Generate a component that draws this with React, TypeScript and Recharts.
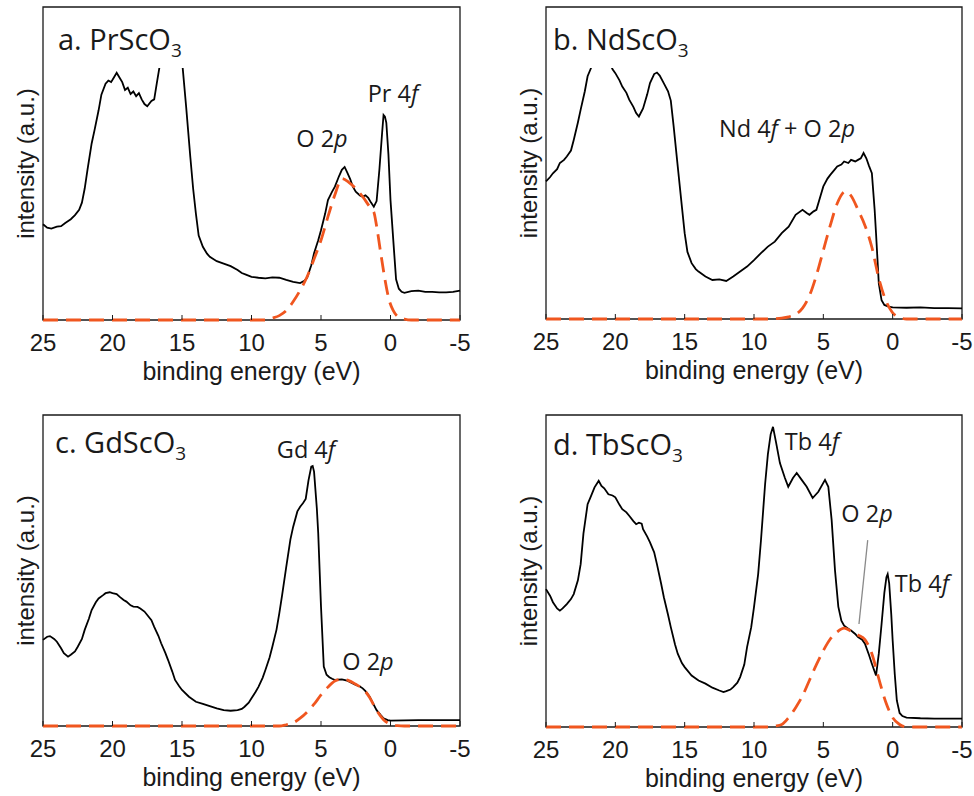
import React from "react";
import {
  LineChart,
  Line,
  XAxis,
  YAxis,
  ReferenceArea,
  ReferenceDot,
  ReferenceLine,
  Label,
} from "recharts";

const energyTicks = [25, 20, 15, 10, 5, 0, -5];

// a. PrScO3
const prEnergy = [
  25, 24.7, 24.4, 24, 23.7, 23.4, 23, 22.7, 22.4, 22.2, 22, 21.8, 21.5, 21.3,
  21, 20.8, 20.5, 20.3, 20.1, 19.9, 19.7, 19.5, 19.3, 19.1, 18.9, 18.7, 18.5,
  18.3, 18.1, 17.9, 17.7, 17.5, 17.2, 17, 16.8, 16.5, 16.2, 15.8, 15.3, 15,
  14.7, 14.4, 14.2, 14, 13.8, 13.5, 13.2, 13, 12.5, 12, 11.5, 11, 10.7, 10.4,
  10, 9.5, 9, 8.5, 8, 7.5, 7, 6.5, 6.2, 6, 5.7, 5.5, 5.2, 5, 4.7, 4.5, 4.2, 4,
  3.7, 3.5, 3.3, 3.1, 2.9, 2.7, 2.5, 2.2, 2, 1.8, 1.6, 1.4, 1.2, 1, 0.8, 0.6,
  0.5, 0.4, 0.3, 0.15, 0, -0.2, -0.4, -0.6, -0.8, -1, -1.5, -2, -2.5, -3, -3.5,
  -4, -4.5, -5,
];
const prIntensity = [
  0.306, 0.295, 0.292, 0.298, 0.3, 0.31, 0.322, 0.335, 0.352, 0.375, 0.42,
  0.48, 0.564, 0.605, 0.67, 0.72, 0.755, 0.765, 0.76, 0.775, 0.79, 0.775, 0.76,
  0.735, 0.742, 0.722, 0.73, 0.715, 0.725, 0.705, 0.69, 0.683, 0.7, 0.705,
  0.76, 0.84, 0.92, 0.93, 0.92, 0.83, 0.68, 0.52, 0.42, 0.34, 0.27, 0.234,
  0.212, 0.202, 0.188, 0.18, 0.172, 0.16, 0.15, 0.145, 0.138, 0.135, 0.133,
  0.136, 0.135, 0.128, 0.122, 0.118, 0.125, 0.135, 0.175, 0.213, 0.255, 0.287,
  0.34, 0.383, 0.41, 0.426, 0.46, 0.48, 0.489, 0.47, 0.45, 0.425, 0.41, 0.398,
  0.394, 0.398, 0.39, 0.375, 0.362, 0.38, 0.48, 0.6, 0.655, 0.65, 0.63, 0.53,
  0.383, 0.255, 0.13, 0.1, 0.09, 0.087, 0.092, 0.094, 0.09, 0.09, 0.088, 0.088,
  0.09, 0.094,
];
const prFitEnergy = [
  25, 9, 8.5, 8, 7.5, 7, 6.5, 6, 5.5, 5, 4.5, 4, 3.5, 3, 2.5, 2, 1.5, 1.2, 1,
  0.7, 0.4, 0.1, -0.2, -0.5, -1, -1.5, -5,
];
const prFit = [
  0, 0, 0.006, 0.014, 0.03, 0.059, 0.095, 0.138, 0.195, 0.255, 0.33, 0.4,
  0.452, 0.44, 0.42, 0.394, 0.362, 0.345, 0.3, 0.213, 0.13, 0.064, 0.03, 0.012,
  0.003, 0, 0,
];

// b. NdScO3
const ndEnergy = [
  25, 24.7, 24.5, 24.2, 24, 23.7, 23.5, 23.2, 23, 22.7, 22.5, 22.2, 22, 21.7,
  21.5, 21.2, 21, 20.7, 20.5, 20.2, 20, 19.7, 19.5, 19.2, 19, 18.7, 18.5, 18.3,
  18, 17.7, 17.5, 17.2, 17, 16.8, 16.5, 16.2, 16, 15.8, 15.5, 15.2, 15, 14.8,
  14.5, 14.2, 14, 13.5, 13, 12.5, 12, 11.5, 11, 10.5, 10, 9.5, 9, 8.5, 8, 7.5,
  7, 6.5, 6.2, 6, 5.7, 5.5, 5.2, 5, 4.7, 4.5, 4.2, 4, 3.7, 3.5, 3.2, 3, 2.7,
  2.5, 2.3, 2.1, 1.9, 1.7, 1.5, 1.3, 1.2, 1, 0.8, 0.6, 0.3, 0, -1, -2, -3, -4,
  -5,
];
const ndIntensity = [
  0.441, 0.455, 0.467, 0.48, 0.5, 0.51, 0.521, 0.54, 0.574, 0.63, 0.671, 0.73,
  0.778, 0.81, 0.835, 0.85, 0.855, 0.85, 0.83, 0.8, 0.788, 0.765, 0.745, 0.725,
  0.703, 0.68, 0.66, 0.649, 0.675, 0.72, 0.756, 0.785, 0.79, 0.78, 0.755, 0.73,
  0.7, 0.62, 0.489, 0.36, 0.275, 0.215, 0.179, 0.16, 0.152, 0.136, 0.125,
  0.127, 0.122, 0.136, 0.152, 0.168, 0.189, 0.211, 0.232, 0.248, 0.275, 0.296,
  0.334, 0.35, 0.34, 0.334, 0.345, 0.35, 0.395, 0.425, 0.45, 0.462, 0.478,
  0.489, 0.495, 0.505, 0.5, 0.51, 0.505, 0.51, 0.515, 0.532, 0.515, 0.49,
  0.467, 0.35, 0.275, 0.114, 0.06, 0.045, 0.04, 0.037, 0.036, 0.037, 0.035,
  0.035, 0.034,
];
const ndFitEnergy = [
  25, 9, 8.5, 8, 7.5, 7, 6.5, 6, 5.5, 5, 4.5, 4, 3.4, 3, 2.5, 2, 1.5, 1, 0.5, 0,
  -0.5, -1, -5,
];
const ndFit = [
  0, 0, 0.001, 0.003, 0.007, 0.015, 0.035, 0.075, 0.14, 0.22, 0.3, 0.37, 0.409,
  0.395, 0.35, 0.3, 0.23, 0.13, 0.06, 0.02, 0.005, 0, 0,
];

// c. GdScO3
const gdEnergy = [
  25, 24.7, 24.5, 24.2, 24, 23.7, 23.5, 23.2, 23, 22.7, 22.5, 22.2, 22, 21.7,
  21.5, 21.2, 21, 20.7, 20.5, 20.2, 20, 19.7, 19.5, 19.2, 19, 18.7, 18.5, 18.2,
  18, 17.7, 17.5, 17.2, 17, 16.7, 16.5, 16.2, 16, 15.7, 15.5, 15.2, 15, 14.5,
  14, 13.5, 13, 12.5, 12, 11.5, 11, 10.7, 10.5, 10.2, 10, 9.7, 9.5, 9.2, 9, 8.7,
  8.5, 8.2, 8, 7.8, 7.5, 7.2, 7, 6.7, 6.5, 6.3, 6.1, 5.9, 5.7, 5.6, 5.5, 5.3,
  5.2, 5, 4.8, 4.6, 4.4, 4.2, 4, 3.5, 3.2, 3, 2.5, 2.2, 2, 1.8, 1.5, 1.2, 1,
  0.7, 0.5, 0.2, 0, -1, -2, -3, -4, -5,
];
const gdIntensity = [
  0.277, 0.287, 0.289, 0.28, 0.271, 0.25, 0.234, 0.223, 0.229, 0.24, 0.255,
  0.28, 0.309, 0.345, 0.373, 0.398, 0.41, 0.42, 0.427, 0.43, 0.427, 0.424,
  0.416, 0.405, 0.4, 0.388, 0.384, 0.383, 0.378, 0.368, 0.357, 0.34, 0.319,
  0.29, 0.266, 0.235, 0.212, 0.175, 0.148, 0.128, 0.116, 0.094, 0.078, 0.071,
  0.064, 0.057, 0.051, 0.049, 0.051, 0.055, 0.062, 0.075, 0.089, 0.11, 0.126,
  0.155, 0.18, 0.22, 0.255, 0.31, 0.362, 0.42, 0.512, 0.6, 0.641, 0.69, 0.705,
  0.716, 0.73, 0.79, 0.834, 0.836, 0.818, 0.7, 0.62, 0.384, 0.191, 0.165,
  0.157, 0.152, 0.148, 0.15, 0.147, 0.143, 0.132, 0.127, 0.121, 0.112, 0.094,
  0.068, 0.051, 0.035, 0.025, 0.019, 0.017, 0.018, 0.019, 0.019, 0.019, 0.019,
];
const gdFitEnergy = [
  25, 8, 7.5, 7, 6.5, 6, 5.5, 5, 4.5, 4, 3.5, 3, 2.5, 2, 1.5, 1, 0.5, 0, -0.5,
  -1, -5,
];
const gdFit = [
  0, 0, 0.004, 0.01, 0.025, 0.045, 0.07, 0.1, 0.125, 0.145, 0.15, 0.146, 0.134,
  0.12, 0.092, 0.05, 0.02, 0.006, 0.001, 0, 0,
];

// d. TbScO3
const tbEnergy = [
  25, 24.7, 24.5, 24.2, 24, 23.8, 23.5, 23.2, 23, 22.7, 22.5, 22.3, 22, 21.8,
  21.5, 21.3, 21.2, 21, 20.8, 20.5, 20.2, 20, 19.7, 19.5, 19.2, 19, 18.7, 18.5,
  18.3, 18.1, 18, 17.7, 17.5, 17.2, 17, 16.7, 16.5, 16.2, 16, 15.7, 15.5, 15.2,
  15, 14.5, 14, 13.5, 13, 12.5, 12.2, 12, 11.7, 11.5, 11.2, 11, 10.7, 10.5,
  10.2, 10, 9.7, 9.5, 9.2, 9, 8.8, 8.63, 8.4, 8.13, 7.77, 7.53, 7.19, 6.92,
  6.56, 6.2, 5.77, 5.36, 4.88, 4.64, 4.4, 4.16, 3.92, 3.7, 3.5, 3.2, 3, 2.7,
  2.5, 2.2, 2, 1.7, 1.5, 1.2, 1, 0.8, 0.6, 0.45, 0.36, 0.25, 0.1, 0, -0.15,
  -0.3, -0.5, -0.7, -1, -2, -3, -4, -5,
];
const tbIntensity = [
  0.442, 0.42, 0.4, 0.38, 0.373, 0.38, 0.394, 0.41, 0.426, 0.47, 0.522, 0.62,
  0.714, 0.735, 0.768, 0.782, 0.789, 0.773, 0.765, 0.746, 0.742, 0.736, 0.712,
  0.698, 0.688, 0.677, 0.66, 0.65, 0.655, 0.652, 0.634, 0.61, 0.592, 0.56,
  0.522, 0.46, 0.416, 0.36, 0.32, 0.265, 0.235, 0.205, 0.192, 0.165, 0.149,
  0.139, 0.126, 0.117, 0.112, 0.115, 0.12, 0.128, 0.142, 0.16, 0.2, 0.256,
  0.32, 0.384, 0.49, 0.597, 0.778, 0.874, 0.938, 0.962, 0.91, 0.846, 0.798,
  0.77, 0.798, 0.814, 0.792, 0.77, 0.734, 0.754, 0.792, 0.77, 0.663, 0.503,
  0.386, 0.341, 0.325, 0.315, 0.309, 0.298, 0.288, 0.28, 0.267, 0.23, 0.203,
  0.165, 0.235, 0.33, 0.43, 0.48, 0.49, 0.46, 0.36, 0.277, 0.17, 0.085, 0.045,
  0.035, 0.03, 0.028, 0.027, 0.027, 0.027,
];
const tbFitEnergy = [
  25, 9, 8.5, 8, 7.5, 7, 6.5, 6, 5.5, 5, 4.5, 4, 3.5, 3, 2.5, 2, 1.5, 1, 0.5, 0,
  -0.5, -1, -5,
];
const tbFit = [
  0, 0, 0.003, 0.008, 0.03, 0.062, 0.1, 0.15, 0.2, 0.245, 0.282, 0.305, 0.317,
  0.307, 0.295, 0.28, 0.235, 0.155, 0.08, 0.03, 0.008, 0, 0,
];

type Point = { e: number; v: number };
type Note = { e: number; v: number; parts: string[] };

const zip = (es: number[], vs: number[]): Point[] =>
  es.map((e, k) => ({ e, v: vs[k] }));

// label text: odd entries are set in italics
const prNotes: Note[] = [
  { e: 4.93, v: 0.553, parts: ["O 2", "p"] },
  { e: -0.18, v: 0.696, parts: ["Pr 4", "f"] },
];
const ndNotes: Note[] = [
  { e: 7.62, v: 0.583, parts: ["Nd 4", "f", " + O 2", "p"] },
];
const gdNotes: Note[] = [
  { e: 6.08, v: 0.862, parts: ["Gd 4", "f"] },
  { e: 1.62, v: 0.18, parts: ["O 2", "p"] },
];
const tbNotes: Note[] = [
  { e: 5.82, v: 0.888, parts: ["Tb 4", "f"] },
  { e: 1.85, v: 0.657, parts: ["O 2", "p"] },
  { e: -2.11, v: 0.433, parts: ["Tb 4", "f"] },
];
const tbPointer = [
  { x: 1.8, y: 0.599 },
  { x: 2.43, y: 0.33 },
];

type Panel = {
  title: string;
  spectrum: Point[];
  fit: Point[];
  notes: Note[];
  pointer?: { x: number; y: number }[];
  box: { x: number; y: number; w: number; h: number };
  titleAt: { x: number; y: number };
};

const panels: Panel[] = [
  {
    title: "a. PrScO",
    spectrum: zip(prEnergy, prIntensity),
    fit: zip(prFitEnergy, prFit),
    notes: prNotes,
    box: { x: 43, y: 7, w: 417, h: 313 },
    titleAt: { x: 58, y: 50 },
  },
  {
    title: "b. NdScO",
    spectrum: zip(ndEnergy, ndIntensity),
    fit: zip(ndFitEnergy, ndFit),
    notes: ndNotes,
    box: { x: 546, y: 7, w: 416, h: 312 },
    titleAt: { x: 553, y: 50 },
  },
  {
    title: "c. GdScO",
    spectrum: zip(gdEnergy, gdIntensity),
    fit: zip(gdFitEnergy, gdFit),
    notes: gdNotes,
    box: { x: 43, y: 415, w: 417, h: 311 },
    titleAt: { x: 55, y: 453 },
  },
  {
    title: "d. TbScO",
    spectrum: zip(tbEnergy, tbIntensity),
    fit: zip(tbFitEnergy, tbFit),
    notes: tbNotes,
    pointer: tbPointer,
    box: { x: 546, y: 415, w: 416, h: 312 },
    titleAt: { x: 553, y: 455 },
  },
];

const INK = "#1a1a1a";
const FIT = "#f0561f";
const SANS = "'Liberation Sans', Arial, sans-serif";
const HUMANIST = "'Open Sans', sans-serif";

const NoteText = (props: any) => {
  const { viewBox, parts } = props;
  const cx = viewBox.x + (viewBox.width || 0) / 2;
  const cy = viewBox.y + (viewBox.height || 0) / 2;
  return (
    <text
      x={cx}
      y={cy}
      textAnchor="middle"
      fontFamily={HUMANIST}
      fontSize={23.5}
      fill={INK}
    >
      {parts.map((p: string, k: number) => (
        <tspan key={k} fontStyle={k % 2 ? "italic" : "normal"}>
          {p}
        </tspan>
      ))}
    </text>
  );
};

const SpectrumPanel = ({ panel }: { panel: Panel }) => {
  const { box } = panel;
  const width = box.w + 57;
  const height = box.h + 78;
  return (
    <>
      <div
        style={{ position: "absolute", left: box.x - 45, top: box.y - 10 }}
      >
        <LineChart
          width={width}
          height={height}
          margin={{ top: 9, right: 12, bottom: 0, left: 44 }}
        >
          <XAxis
            dataKey="e"
            type="number"
            domain={[-5, 25]}
            reversed
            ticks={energyTicks}
            height={68}
            axisLine={false}
            tickSize={-5}
            tickMargin={19}
            tickLine={{ stroke: INK }}
            tick={{ fontSize: 24, fill: INK, fontFamily: SANS }}
          >
            <Label
              value="binding energy (eV)"
              position="insideBottom"
              offset={8}
              fontSize={25}
              fill={INK}
              fontFamily={SANS}
            />
          </XAxis>
          <XAxis
            xAxisId="top"
            orientation="top"
            dataKey="e"
            type="number"
            domain={[-5, 25]}
            reversed
            ticks={energyTicks}
            height={1}
            axisLine={false}
            tick={false}
            tickSize={-5}
            tickLine={{ stroke: INK }}
          />
          <YAxis
            type="number"
            domain={[0, 1]}
            width={1}
            tick={false}
            tickLine={false}
            axisLine={false}
          >
            <Label
              value="intensity (a.u.)"
              angle={-90}
              position="left"
              offset={17}
              fontSize={24}
              fill={INK}
              fontFamily={SANS}
              style={{ textAnchor: "middle" }}
            />
          </YAxis>
          <ReferenceArea
            x1={25}
            x2={-5}
            y1={0}
            y2={1}
            fill="none"
            stroke={INK}
            strokeWidth={1.3}
            fillOpacity={0}
          />
          <Line
            data={panel.spectrum}
            dataKey="v"
            type="linear"
            stroke="#000"
            strokeWidth={1.8}
            dot={false}
            isAnimationActive={false}
          />
          <Line
            data={panel.fit}
            dataKey="v"
            type="monotone"
            stroke={FIT}
            strokeWidth={2.8}
            strokeDasharray="15 8"
            dot={false}
            isAnimationActive={false}
          />
          {panel.pointer && (
            <ReferenceLine
              segment={panel.pointer}
              stroke="#8a8a8a"
              strokeWidth={1.3}
            />
          )}
          {panel.notes.map((n, k) => (
            <ReferenceDot
              key={k}
              x={n.e}
              y={n.v}
              r={1}
              fill="none"
              stroke="none"
              label={(p: any) => <NoteText {...p} parts={n.parts} />}
            />
          ))}
        </LineChart>
      </div>
      <div
        style={{
          position: "absolute",
          left: panel.titleAt.x - 4,
          top: panel.titleAt.y - 34,
          padding: "8px 6px 10px 4px",
          background: "#fff",
          fontFamily: HUMANIST,
          fontSize: 29,
          lineHeight: "29px",
          color: INK,
          whiteSpace: "nowrap",
        }}
      >
        {panel.title}
        <span style={{ fontSize: 19, position: "relative", top: 7 }}>3</span>
      </div>
    </>
  );
};

export default function App() {
  return (
    <div
      style={{
        position: "absolute",
        left: 0,
        top: 0,
        width: 974,
        height: 796,
        background: "#fff",
        overflow: "hidden",
      }}
    >
      {panels.map((p) => (
        <SpectrumPanel key={p.title} panel={p} />
      ))}
    </div>
  );
}
